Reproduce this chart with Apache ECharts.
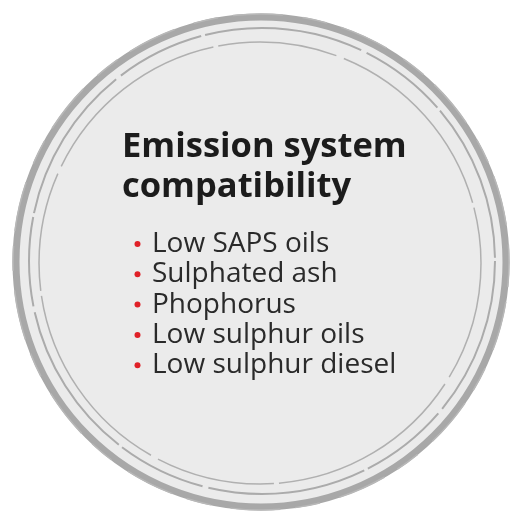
<!DOCTYPE html>
<html>
<head>
<meta charset="utf-8">
<script src="https://cdn.jsdelivr.net/npm/echarts@6/dist/echarts.min.js"></script>
<style>
	html, body { margin: 0; padding: 0; background: #ffffff; }
	#main { width: 513px; height: 513px; }
</style>
</head>
<body>
<div id="main"></div>
<script>
"use strict";
// 文本内容
var titleLines = [ 'Emission system', 'compatibility' ];
var listItems = [ 'Low SAPS oils', 'Sulphated ash', 'Phophorus', 'Low sulphur oils', 'Low sulphur diesel' ];

var chart = echarts.init(document.getElementById('main'));
var cx = 261, cy = 262;
var elements = [];

// 底色圆
elements.push({
	type : 'circle',
	shape : { cx : cx, cy : cy, r : 245 },
	style : { fill : '#ebebeb', stroke : '#a8a8a8', lineWidth : 7 }
});
// 手绘风格的内圈
elements.push({
	type : 'circle',
	shape : { cx : cx + 1, cy : cy - 1, r : 233 },
	style : { fill : 'none', stroke : '#ababab', lineWidth : 2, lineDash : [ 160, 6, 90, 4 ] }
});
elements.push({
	type : 'circle',
	shape : { cx : cx - 1, cy : cy + 1, r : 221 },
	style : { fill : 'none', stroke : '#b0b0b0', lineWidth : 1.5, lineDash : [ 120, 8, 200, 5 ] }
});
elements.push({
	type : 'circle',
	shape : { cx : cx, cy : cy, r : 248 },
	style : { fill : 'none', stroke : '#b8b8b8', lineWidth : 1.5, lineDash : [ 25, 15, 50, 20 ] }
});

// 标题
titleLines.forEach(function(t, i) {
	elements.push({
		type : 'text',
		x : 122,
		y : 165 + i * 40,
		style : {
			text : t,
			fill : '#1c1c1c',
			font : 'bold 34.5px "Open Sans"',
			textVerticalAlign : 'bottom'
		}
	});
});

// 列表
listItems.forEach(function(t, i) {
	var y = 244 + i * 30.3;
	elements.push({
		type : 'circle',
		shape : { cx : 137.5, cy : y, r : 3 },
		style : { fill : '#e02128' }
	});
	elements.push({
		type : 'text',
		x : 152,
		y : y,
		style : {
			text : t,
			fill : '#2a2a2a',
			font : '500 28px "Open Sans"',
			textVerticalAlign : 'middle'
		}
	});
});

chart.setOption({
	backgroundColor : '#ffffff',
	graphic : { elements : elements }
});
</script>
</body>
</html>
